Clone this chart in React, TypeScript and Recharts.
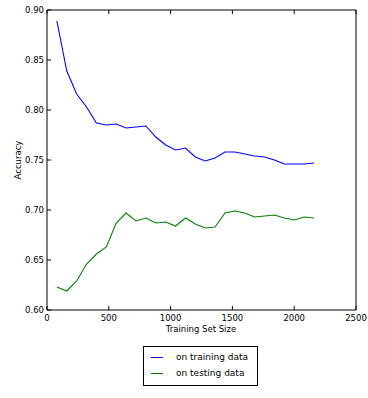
import React from 'react';
import { LineChart, Line, XAxis, YAxis } from 'recharts';

const sizes = [80, 160, 240, 320, 400, 480, 560, 640, 720, 800, 880, 960, 1040, 1120, 1200, 1280, 1360, 1440, 1520, 1600, 1680, 1760, 1840, 1920, 2000, 2080, 2160];
const trainAcc = [0.889, 0.839, 0.816, 0.803, 0.787, 0.785, 0.786, 0.782, 0.783, 0.784, 0.773, 0.765, 0.760, 0.762, 0.753, 0.749, 0.752, 0.758, 0.758, 0.756, 0.754, 0.753, 0.750, 0.746, 0.746, 0.746, 0.747];
const testAcc = [0.623, 0.619, 0.629, 0.646, 0.656, 0.663, 0.687, 0.697, 0.689, 0.692, 0.687, 0.688, 0.684, 0.692, 0.686, 0.682, 0.683, 0.697, 0.699, 0.697, 0.693, 0.694, 0.695, 0.692, 0.690, 0.693, 0.692];
const xTicks = [0, 500, 1000, 1500, 2000, 2500];
const yTicks = [0.6, 0.65, 0.7, 0.75, 0.8, 0.85, 0.9];
const seriesNames = ['on training data', 'on testing data'];
const seriesColors = ['#0000ff', '#008000'];

const data = sizes.map((s, i) => ({ size: s, train: trainAcc[i], test: testAcc[i] }));

const FONT = 'DejaVu Sans';
const TL = 4;

const BottomTick = (props: any) => {
  const { x, y, payload } = props;
  return (
    <g>
      <line x1={x} y1={y} x2={x} y2={y - TL} stroke="#000" strokeWidth={1} />
      <text x={x} y={y + 11} textAnchor="middle" fontSize={8.5} fontFamily={FONT} fill="#000">{payload.value}</text>
    </g>
  );
};
const TopTick = (props: any) => {
  const { x, y } = props;
  return <line x1={x} y1={y} x2={x} y2={y + TL} stroke="#000" strokeWidth={1} />;
};
const LeftTick = (props: any) => {
  const { x, y, payload } = props;
  return (
    <g>
      <line x1={x} y1={y} x2={x + TL} y2={y} stroke="#000" strokeWidth={1} />
      <text x={x - 3} y={y + 3} textAnchor="end" fontSize={8.5} fontFamily={FONT} fill="#000">{payload.value.toFixed(2)}</text>
    </g>
  );
};
const RightTick = (props: any) => {
  const { x, y } = props;
  return <line x1={x} y1={y} x2={x - TL} y2={y} stroke="#000" strokeWidth={1} />;
};

export default function App() {
  return (
    <div style={{ position: 'absolute', left: 0, top: 0, width: 368, height: 398, background: '#fff' }}>
      <LineChart width={368} height={398} data={data} margin={{ top: 9, right: 0, left: 0, bottom: 58 }}>
        <XAxis xAxisId="b" dataKey="size" type="number" domain={[0, 2500]} ticks={xTicks} interval={0}
          orientation="bottom" height={30} tickSize={0} tickMargin={0} tickLine={false}
          axisLine={{ stroke: '#000', strokeWidth: 1 }} tick={<BottomTick />}
          label={{ content: () => <text x={201} y={332} textAnchor="middle" fontSize={8.5} fontFamily={FONT} fill="#000">Training Set Size</text> }} />
        <XAxis xAxisId="t" dataKey="size" type="number" domain={[0, 2500]} ticks={xTicks} interval={0}
          orientation="top" height={1} tickSize={0} tickMargin={0} tickLine={false}
          axisLine={{ stroke: '#000', strokeWidth: 1 }} tick={<TopTick />} />
        <YAxis yAxisId="l" type="number" domain={[0.6, 0.9]} ticks={yTicks} interval={0}
          orientation="left" width={47} tickSize={0} tickMargin={0} tickLine={false}
          axisLine={{ stroke: '#000', strokeWidth: 1 }} tick={<LeftTick />}
          label={{ content: () => <text x={21} y={160} transform="rotate(-90 21 160)" textAnchor="middle" fontSize={8.5} fontFamily={FONT} fill="#000">Accuracy</text> }} />
        <YAxis yAxisId="r" type="number" domain={[0.6, 0.9]} ticks={yTicks} interval={0}
          orientation="right" width={12} tickSize={0} tickMargin={0} tickLine={false}
          axisLine={{ stroke: '#000', strokeWidth: 1 }} tick={<RightTick />} />
        <Line xAxisId="b" yAxisId="l" type="linear" dataKey="train" name={seriesNames[0]} stroke={seriesColors[0]} strokeWidth={1.1} dot={false} isAnimationActive={false} />
        <Line xAxisId="b" yAxisId="l" type="linear" dataKey="test" name={seriesNames[1]} stroke={seriesColors[1]} strokeWidth={1.1} dot={false} isAnimationActive={false} />
      </LineChart>
      <div style={{ position: 'absolute', left: 143, top: 346, width: 115, height: 40, border: '1px solid #000', boxSizing: 'border-box', fontFamily: FONT, fontSize: 9, background: '#fff' }}>
        {seriesNames.map((n, i) => (
          <div key={n} style={{ position: 'absolute', left: 0, top: 3 + i * 16, height: 14, display: 'flex', alignItems: 'center', whiteSpace: 'nowrap' }}>
            <div style={{ marginLeft: 7, width: 12, height: 1, background: seriesColors[i] }} />
            <span style={{ marginLeft: 13 }}>{n}</span>
          </div>
        ))}
      </div>
    </div>
  );
}
